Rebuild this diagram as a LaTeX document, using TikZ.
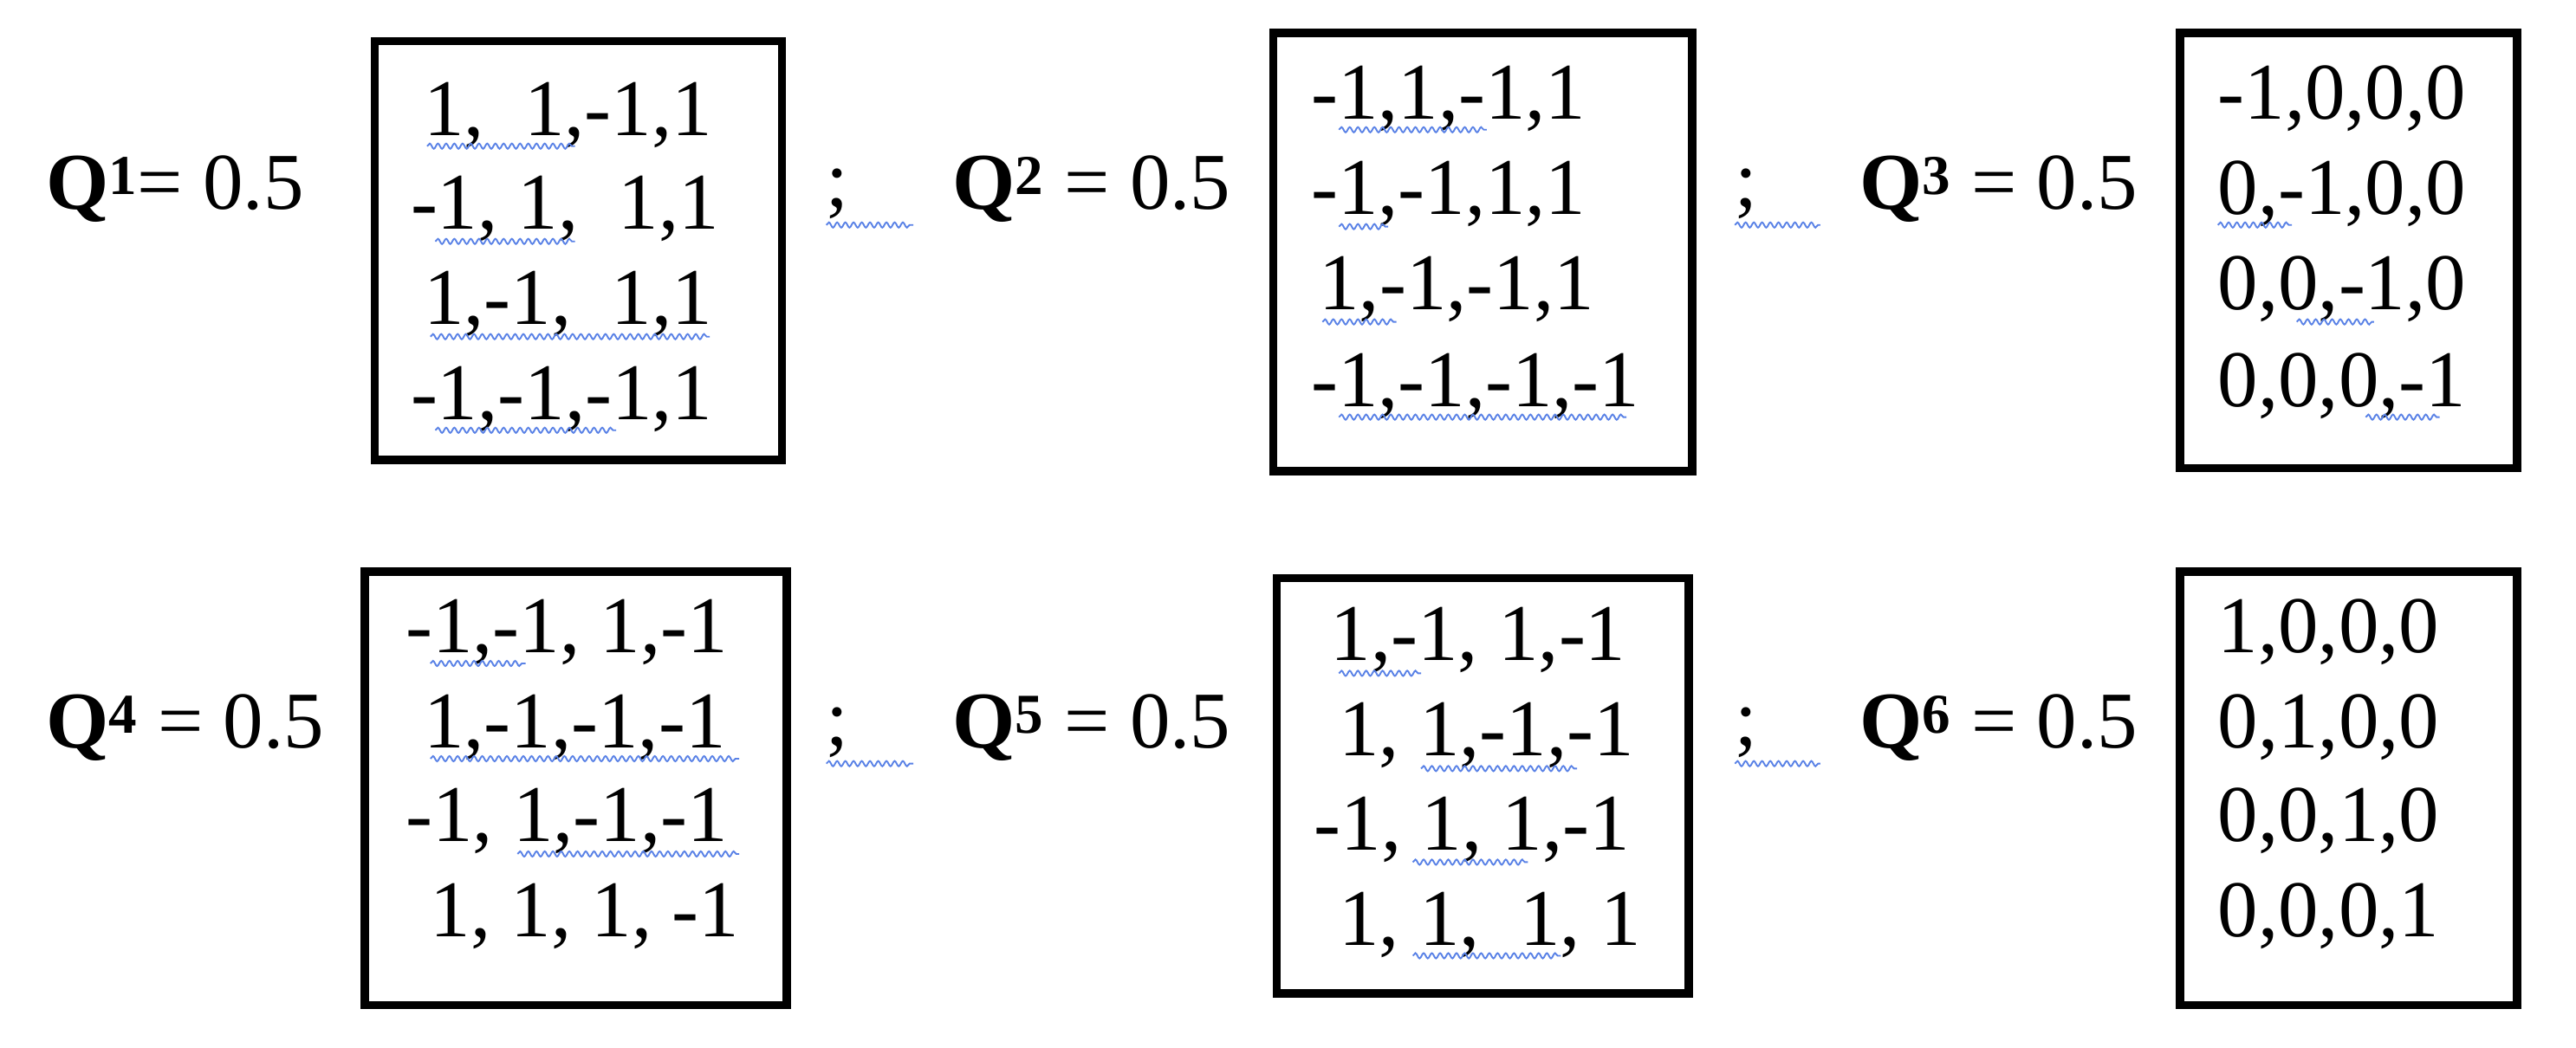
\documentclass[tikz,border=0pt]{standalone}
\usepackage{fontspec}
\setmainfont{Liberation Serif}
\usetikzlibrary{decorations.pathmorphing}
\begin{document}
\begin{tikzpicture}[x=1pt,y=-1pt,
  every node/.style={inner sep=0pt,outer sep=0pt,font=\fontsize{49}{58}\selectfont},
  row/.style={anchor=west},
  mbox/.style={draw=black,line width=5pt},
  sq/.style={draw={rgb,255:red,90;green,130;blue,230},line width=1pt,decorate,decoration={snake,amplitude=1.6pt,segment length=5pt}}]
\useasboundingbox (0,0) rectangle (1568,638);
% labels
\node[row] (q1) at (28,115) {\textbf{Q\textsuperscript{1}}= 0.5};
\node[row] (q2) at (580,115) {\textbf{Q\textsuperscript{2}} = 0.5};
\node[row] (q3) at (1132,115) {\textbf{Q\textsuperscript{3}} = 0.5};
\node[row] (q4) at (28,443) {\textbf{Q\textsuperscript{4}} = 0.5};
\node[row] (q5) at (580,443) {\textbf{Q\textsuperscript{5}} = 0.5};
\node[row] (q6) at (1132,443) {\textbf{Q\textsuperscript{6}} = 0.5};
\node[row] (s1) at (503,118) {;};
\node[row] (s2) at (1056,118) {;};
\node[row] (s3) at (503,446) {;};
\node[row] (s4) at (1056,446) {;};
% boxes
\draw[mbox] (228,25) rectangle (476,280);
\draw[mbox] (775,20) rectangle (1030,287);
\draw[mbox] (1327,20) rectangle (1532,285);
\draw[mbox] (222,348) rectangle (479,612);
\draw[mbox] (777,352) rectangle (1028,605);
\draw[mbox] (1327,348) rectangle (1532,612);
% box 1
\node[row] (a1) at (258,70) {1,\ \ 1,-1,1};
\node[row] (a2) at (250,127) {-1, 1,\ \ 1,1};
\node[row] (a3) at (258,185) {1,-1,\ \ 1,1};
\node[row] (a4) at (250,243) {-1,-1,-1,1};
% box 2
\node[row] (b1) at (798,60) {-1,1,-1,1};
\node[row] (b2) at (798,118) {-1,-1,1,1};
\node[row] (b3) at (803,176) {1,-1,-1,1};
\node[row] (b4) at (798,235) {-1,-1,-1,-1};
% box 3
\node[row] (c1) at (1350,60) {-1,0,0,0};
\node[row] (c2) at (1350,118) {0,-1,0,0};
\node[row] (c3) at (1350,176) {0,0,-1,0};
\node[row] (c4) at (1350,235) {0,0,0,-1};
% box 4
\node[row] (d1) at (247,385) {-1,-1, 1,-1};
\node[row] (d2) at (258,443) {1,-1,-1,-1};
\node[row] (d3) at (247,500) {-1, 1,-1,-1};
\node[row] (d4) at (262,558) {1, 1, 1, -1};
% box 5
\node[row] (e1) at (810,390) {1,-1, 1,-1};
\node[row] (e2) at (815,448) {1, 1,-1,-1};
\node[row] (e3) at (800,505) {-1, 1, 1,-1};
\node[row] (e4) at (815,563) {1, 1,\ \ 1, 1};
\node[row] (f1) at (1350,385) {1,0,0,0};
\node[row] (f2) at (1350,443) {0,1,0,0};
\node[row] (f3) at (1350,500) {0,0,1,0};
\node[row] (f4) at (1350,558) {0,0,0,1};
% squiggles
\foreach \xa/\xb/\yy in {503/556/137,1056/1108/137,503/556/465,1056/1108/465,
  260/350/89,265/350/147,262/432/205,265/375/262,
  815/905/79,815/845/138,805/850/196,815/990/254,
  1350/1395/137,1398/1445/196,1440/1485/254,
  262/320/404,262/450/462,315/450/520,
  815/865/410,865/960/468,860/930/525,860/950/582}
  \draw[sq] (\xa,\yy) -- (\xb,\yy);
\end{tikzpicture}
\end{document}
